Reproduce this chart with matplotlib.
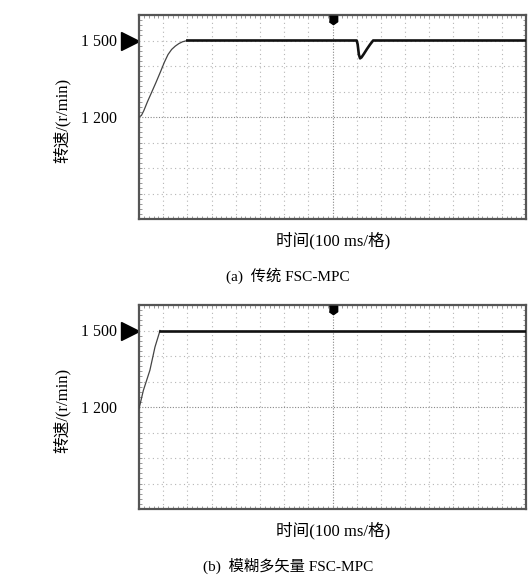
import numpy as np
import matplotlib
matplotlib.use("Agg")
import matplotlib.pyplot as plt
from matplotlib.transforms import blended_transform_factory

plt.rcParams['font.family'] = ['Liberation Serif', 'Noto Sans CJK SC']

# time in grid divisions (16 across, 100 ms each), speed in r/min
t_a = [0, 0.1, 0.2, 0.35, 0.5, 0.7, 0.9, 1.05, 1.2, 1.35, 1.5, 1.65, 1.8, 2.0,
       9.0, 9.04, 9.09, 9.14, 9.2, 9.3, 9.42, 9.55, 9.68, 16]
n_a = [1200, 1206, 1225, 1260, 1292, 1335, 1380, 1415, 1445, 1465, 1478, 1488, 1495, 1500,
       1500, 1485, 1445, 1430, 1434, 1448, 1466, 1484, 1500, 1500]

t_b = [0, 0.05, 0.18, 0.45, 0.66, 0.87, 16]
n_b = [1195, 1213, 1265, 1344, 1435, 1500, 1500]

ytick_vals = [1200, 1500]
ytick_labels = ['1 200', '1 500']
ylabel = '转速/(r/min)'
xlabel = '时间(100 ms/格)'
captions = ['(a)  传统 FSC-MPC', '(b)  模糊多矢量 FSC-MPC']
ramp_end = [13, 5]  # index where the ramp reaches steady state

fig = plt.figure(figsize=(5.32, 5.82), dpi=100)
W, H = 532, 582
boxes = [(139, 15, 526, 219), (139, 305, 526, 509)]

grid_col = '#b5b5b5'
spine_col = '#555555'

for k, (t, n) in enumerate([(t_a, n_a), (t_b, n_b)]):
    x0, y0, x1, y1 = boxes[k]
    ax = fig.add_axes([x0 / W, 1 - y1 / H, (x1 - x0) / W, (y1 - y0) / H])
    ax.set_xlim(0, 16)
    ax.set_ylim(800, 1600)

    # oscilloscope grid
    for gx in range(1, 16):
        if gx == 8:
            ax.axvline(gx, color='#888888', ls=(0, (1, 1.5)), lw=0.8, zorder=1)
        else:
            ax.axvline(gx, color=grid_col, ls=(0, (1, 3)), lw=0.8, zorder=1)
    for gy in range(900, 1600, 100):
        if gy == 1200:
            ax.axhline(gy, color='#888888', ls=(0, (1, 1.5)), lw=0.8, zorder=1)
        else:
            ax.axhline(gy, color=grid_col, ls=(0, (1, 3)), lw=0.8, zorder=1)

    for s in ax.spines.values():
        s.set_color(spine_col)
        s.set_linewidth(1.6)

    ax.set_xticks([])
    ax.set_xticks(np.arange(0, 16.01, 0.2), minor=True)
    ax.set_yticks(ytick_vals)
    ax.set_yticklabels(ytick_labels, fontsize=11.5)
    ax.set_yticks(np.arange(800, 1600.1, 20), minor=True)
    ax.tick_params(axis='y', which='major', length=0, pad=16)
    ax.tick_params(which='minor', direction='in', length=2, width=0.7,
                   color='#999999', top=True, right=True)

    # trace
    e = ramp_end[k]
    ax.plot(t[:e + 1], n[:e + 1], color='#444444', lw=0.9, zorder=3)
    ax.plot(t[e:], n[e:], color='#111111', lw=1.9, zorder=3)

    # reference level arrow and trigger marker
    tr = blended_transform_factory(ax.transAxes, ax.transData)
    ax.plot([-0.023], [1500], marker='>', ms=13, color='black',
            transform=tr, clip_on=False)
    tt = blended_transform_factory(ax.transData, ax.transAxes)
    ax.plot([8], [0.975], marker=[(-1, 1), (1, 1), (1, -0.3), (0, -1), (-1, -0.3)],
            ms=6, color='black', transform=tt, clip_on=False, zorder=5)

    fig.text(62 / W, 1 - (y0 + 105) / H, ylabel, rotation=90, ha='center',
             va='center', fontsize=12)
    fig.text(333 / W, 1 - (y1 + 22) / H, xlabel, ha='center', va='center', fontsize=12)
    fig.text(288 / W, 1 - (y1 + 57) / H, captions[k], ha='center', va='center',
             fontsize=11)

fig.savefig('out.png', dpi=100)
